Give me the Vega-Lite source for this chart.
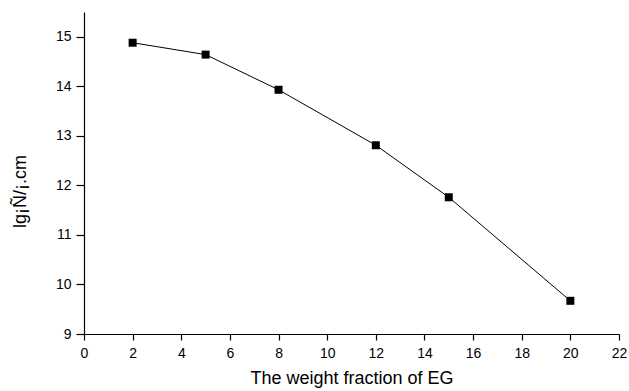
{
  "$schema": "https://vega.github.io/schema/vega-lite/v6.json",
  "autosize": "none",
  "width": 535,
  "height": 322,
  "padding": {"left": 84, "top": 12, "right": 10, "bottom": 57},
  "background": "white",
  "config": {
    "view": {"stroke": null},
    "font": "Liberation Sans",
    "axis": {"grid": false, "domainColor": "black", "tickColor": "black", "labelColor": "black", "titleColor": "black", "labelFont": "Liberation Sans", "titleFont": "Liberation Sans", "labelFontWeight": "normal", "titleFontWeight": "normal", "domainWidth": 1.2, "tickWidth": 1.2}
  },
  "data": {"values": [
    {"x": 2, "y": 14.88},
    {"x": 5, "y": 14.64},
    {"x": 8, "y": 13.93},
    {"x": 12, "y": 12.81},
    {"x": 15, "y": 11.76},
    {"x": 20, "y": 9.67}
  ]},
  "layer": [
    {
      "mark": {"type": "line", "color": "black", "strokeWidth": 1},
      "encoding": {
        "x": {"field": "x", "type": "quantitative", "scale": {"domain": [0, 22], "nice": false, "zero": false},
          "axis": {"values": [0,1,2,3,4,5,6,7,8,9,10,11,12,13,14,15,16,17,18,19,20,21,22],
            "tickSize": {"condition": {"test": "datum.value % 2 === 0", "value": 6}, "value": 3},
            "labelExpr": "datum.value % 2 === 0 ? datum.label : ''",
            "labelPadding": 6, "labelFontSize": 14, "title": "The weight fraction of EG", "titleFontSize": 18, "titlePadding": 9, "labelFlush": false, "labelOverlap": false}},
        "y": {"field": "y", "type": "quantitative", "scale": {"domain": [9, 15.5], "nice": false, "zero": false},
          "axis": {"values": [9,9.5,10,10.5,11,11.5,12,12.5,13,13.5,14,14.5,15,15.5],
            "tickSize": {"condition": {"test": "datum.value % 1 === 0", "value": 8}, "value": 4},
            "labelExpr": "datum.value % 1 === 0 ? datum.label : ''",
            "labelPadding": 5, "labelFontSize": 14, "title": "lg¡Ñ/¡.cm", "titleFontSize": 18, "titlePadding": 26, "titleY": 179, "labelFlush": false, "labelOverlap": false}}
      }
    },
    {
      "mark": {"type": "square", "color": "black", "size": 64, "opacity": 1},
      "encoding": {
        "x": {"field": "x", "type": "quantitative"},
        "y": {"field": "y", "type": "quantitative"}
      }
    }
  ]
}
